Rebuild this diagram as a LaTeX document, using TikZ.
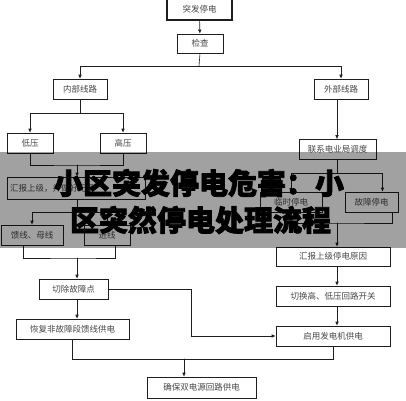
\documentclass[tikz,border=0pt]{standalone}
\usepackage{fontspec}
\usepackage{tikz}
\usetikzlibrary{arrows.meta,calc,positioning}
\newfontfamily\cjk{Noto Sans CJK SC}
\newfontfamily\cjktitle[BoldFeatures={FakeBold=2.5}]{Noto Sans CJK SC}
\definecolor{flowtext}{RGB}{70,70,70}
\definecolor{flowline}{RGB}{30,30,30}

\begin{document}
\begin{tikzpicture}[x=1pt,y=-1pt,>={Latex[length=4pt,width=3.6pt]},line cap=round,
 stepbox/.style={draw=flowline,line width=.6pt,inner sep=0pt,minimum height=20pt,
  font=\cjk\fontsize{8.5}{10}\selectfont,text=flowtext},
 link/.style={draw=flowline,line width=.6pt},
 titletext/.style={font=\cjktitle\bfseries\fontsize{29}{34}\selectfont,inner sep=0pt}]
\useasboundingbox (0,0) rectangle (406,400);
\node[stepbox,line width=1.1pt,minimum width=65pt,minimum height=21pt] (tf) at (199.5,9.5) {突发停电};
\node[stepbox,minimum width=46pt,minimum height=19pt] (jc) at (200,43.5) {检查};
\node[stepbox,minimum width=54pt] (nb) at (80,89) {内部线路};
\node[stepbox,minimum width=54pt] (wb) at (341,89) {外部线路};
\node[stepbox,minimum width=46pt] (dy) at (30,143) {低压};
\node[stepbox,minimum width=46pt] (gy) at (123,143) {高压};
\node[stepbox,minimum width=138pt,minimum height=22pt,text width=132pt,align=left] (hb1) at (76,188) {汇报上级，并做好记录};
\node[stepbox,minimum width=62pt] (kx) at (32,235) {馈线、母线};
\node[stepbox,minimum width=46pt] (jx) at (107,235) {进线};
\node[stepbox,minimum width=69pt] (qc) at (73.5,289) {切除故障点};
\node[stepbox,minimum width=113pt] (hf) at (72.5,329) {恢复非故障段馈线供电};
\node[stepbox,minimum width=109pt,minimum height=21pt] (qb) at (201.5,387.5) {确保双电源回路供电};
\node[stepbox,minimum width=77pt] (lx) at (337.5,149.5) {联系电业局调度};
\node[stepbox,minimum width=62pt] (ls) at (291,202.5) {临时停电};
\node[stepbox,minimum width=53pt] (gz) at (371.5,202) {故障停电};
\node[stepbox,minimum width=114pt,minimum height=19pt] (hb2) at (333,256.5) {汇报上级停电原因};
\node[stepbox,minimum width=114pt] (qh) at (333,296) {切换高、低压回路开关};
\node[stepbox,minimum width=114pt] (qy) at (333,336) {启用发电机供电};
\coordinate (m0) at (199,66);
\coordinate (m1) at (77,165);
\coordinate (m2) at (77,212);
\coordinate (m3) at (77,258);
\coordinate (m4) at (184,359);
\coordinate (m5) at (337,173);
\coordinate (m6) at (337,223);
\draw[link,->] (tf) -- (jc);
\draw[link] (jc.south) -- (m0);
\draw[link,->] (m0) -| (nb.north);
\draw[link,->] (m0) -| (wb.north);
\draw[link] (nb.south) -- (nb.south |- 0,113);
\draw[link,->] (nb.south |- 0,113) -| (dy.north);
\draw[link,->] (nb.south |- 0,113) -| (gy.north);
\draw[link] (dy.south) |- (m1) -| (gy.south);
\draw[link,->] (m1) -- (m1 |- hb1.north);
\draw[link] (m2 |- hb1.south) -- (m2);
\draw[link,->] (m2) -| (kx.north);
\draw[link,->] (m2) -| (jx.north);
\draw[link] ([xshift=-9pt]kx.south) |- (m3) -| ([xshift=8pt]jx.south);
\draw[link,->] (m3) -- (m3 |- qc.north);
\draw[link,->] (m3 |- qc.south) -- (m3 |- hf.north);
\draw[link,->] (qc.east) -| ([xshift=-84pt]qy.west) -- (qy.west);
\draw[link] (hf.south) |- (m4) -| (qy.south);
\draw[link,->] (m4) -- (m4 |- qb.north);
\draw[link,->] (m5 |- wb.south) -- (m5 |- lx.north);
\draw[link] (m5 |- lx.south) -- (m5);
\draw[link,->] (m5) -| (ls.north);
\draw[link,->] (m5) -| ([xshift=11pt]gz.north);
\draw[link] (ls.south) |- (m6) -| ([xshift=21pt]gz.south);
\draw[link,->] (m6) -- (m6 |- hb2.north);
\draw[link,->] (m6 |- hb2.south) -- (m6 |- qh.north);
\draw[link,->] (m6 |- qh.south) -- (m6 |- qy.north);
\fill[black,opacity=.37] (0,152) rectangle (406,248);
\node[titletext] (ti1) at (199,183) {小区突发停电危害：小};
\node[titletext] (ti2) at (200.5,220) {区突然停电处理流程};
\end{tikzpicture}
\end{document}
